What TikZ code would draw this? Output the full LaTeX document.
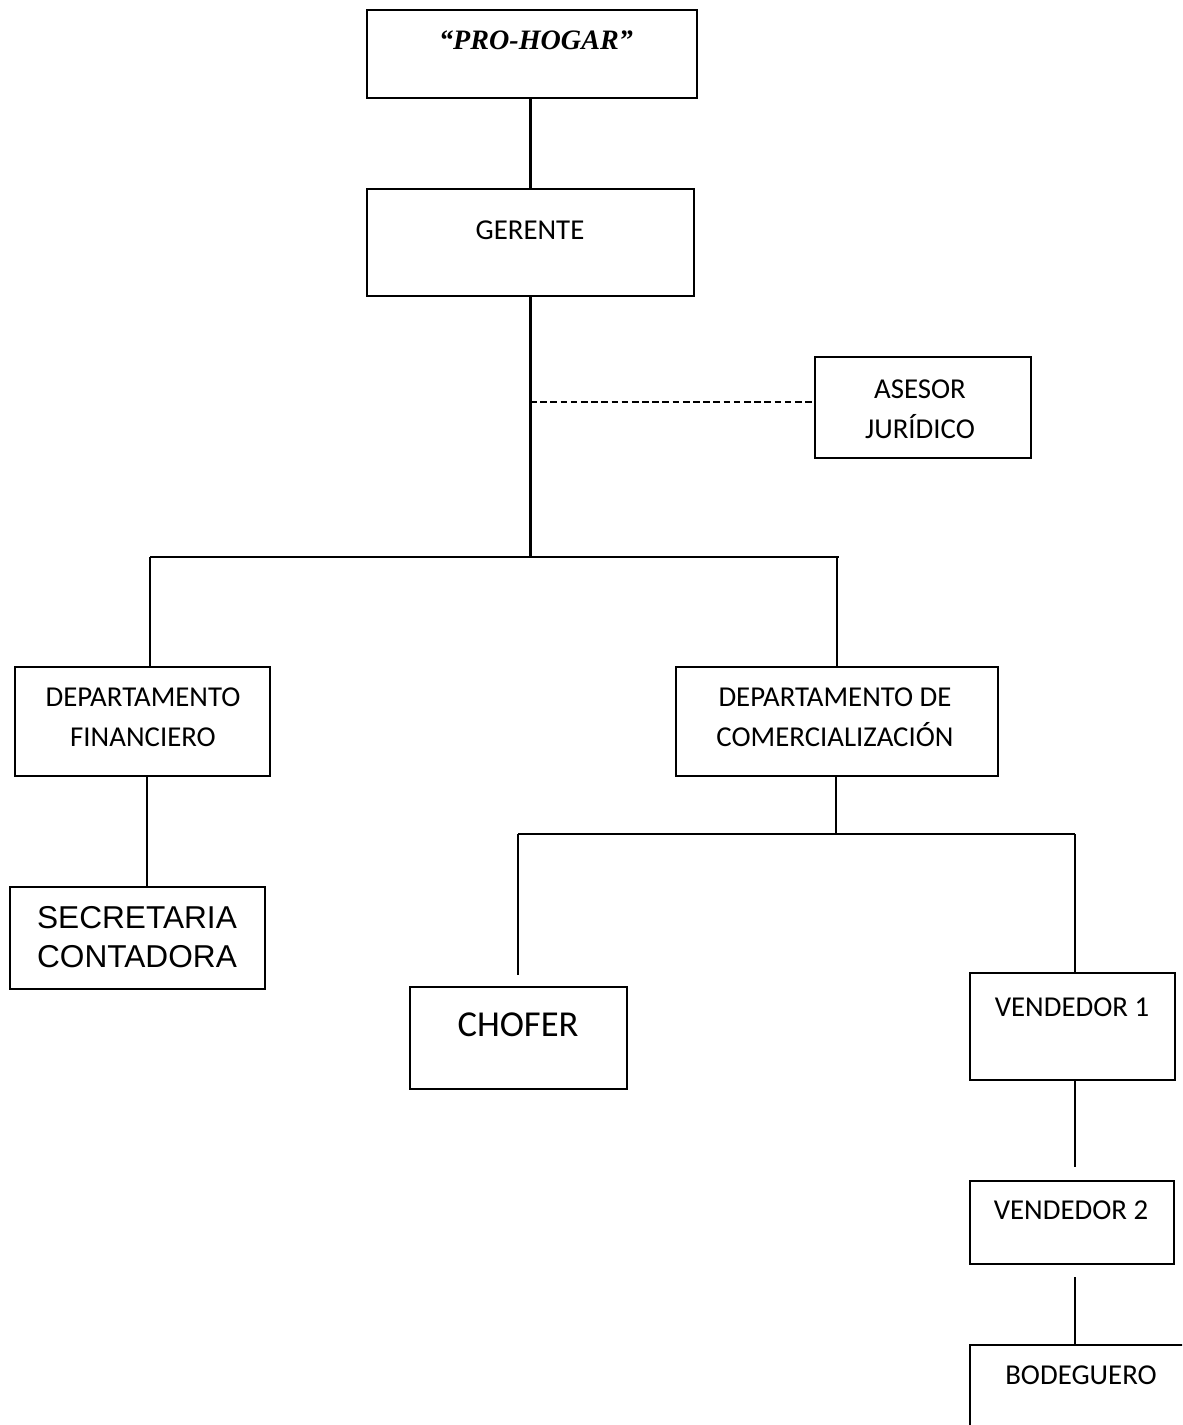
\documentclass[tikz,border=0pt]{standalone}
\usepackage{fontspec}
\setmainfont{Carlito}
\newfontfamily\arialfont{Liberation Sans}
\newfontfamily\titlefont{Liberation Serif}
\usetikzlibrary{fit}

\tikzset{
  orgbox/.style={draw, line width=1.3pt, inner sep=0pt},
  lbl/.style={inner sep=0pt, align=center, font=\fontsize{16.4}{22.8}\selectfont},
  biglbl/.style={inner sep=0pt, align=center, font=\arialfont\fontsize{18}{22}\selectfont},
  link/.style={line width=1.3pt},
  dotlink/.style={line width=0.7pt, dash pattern=on 3.8pt off 2pt},
}

\begin{document}
\begin{tikzpicture}[x=0.02cm, y=-0.02cm]
  \useasboundingbox (0,0) rectangle (1182,1425);
  \clip (0,0) rectangle (1182,1425);
  \fill[white] (0,0) rectangle (1182,1425);

  % boxes
  \node[orgbox, fit={(367,10) (697,98)}] (hogar) {};
  \node[orgbox, fit={(367,189) (694,296)}] (ger) {};
  \node[orgbox, fit={(815,357) (1031,458)}] (ase) {};
  \node[orgbox, fit={(15,667) (270,776)}] (fin) {};
  \node[orgbox, fit={(676,667) (998,776)}] (com) {};
  \node[orgbox, fit={(10,887) (265,989)}] (sec) {};
  \node[orgbox, fit={(410,987) (627,1089)}] (cho) {};
  \node[orgbox, fit={(970,973) (1175,1080)}] (ven1) {};
  \node[orgbox, fit={(970,1181) (1174,1264)}] (ven2) {};
  \node[orgbox, fit={(970,1345) (1220,1470)}] (bod) {};

  % labels
  \node[inner sep=0pt, font=\titlefont\bfseries\itshape\fontsize{16}{20}\selectfont] (hogarT) at (536,40) {“PRO-HOGAR”};
  \node[lbl] (gerT) at (530,230) {GERENTE};
  \node[lbl] (aseT) at (920,409) {ASESOR\\JURÍDICO};
  \node[lbl] (finT) at (143,717) {DEPARTAMENTO\\FINANCIERO};
  \node[lbl] (comT) at (835,717) {DEPARTAMENTO DE\\COMERCIALIZACIÓN};
  \node[biglbl] (secT) at (137,937) {SECRETARIA\\CONTADORA};
  \node[inner sep=0pt, font=\fontsize{20.8}{24}\selectfont] (choT) at (518,1025) {CHOFER};
  \node[lbl] (ven1T) at (1072,1007) {VENDEDOR 1};
  \node[lbl] (ven2T) at (1071,1210) {VENDEDOR 2};
  \node[lbl] (bodT) at (1081,1375) {BODEGUERO};

  % junction points
  \coordinate (trunk) at (530,557);
  \coordinate (brL) at (150,557);
  \coordinate (brR) at (839,557);
  \coordinate (comX) at (837,557);
  \coordinate (dash) at (530,402);
  \coordinate (finX) at (147,0);
  \coordinate (comJ) at (836,834);
  \coordinate (subL) at (518,834);
  \coordinate (subR) at (1075,834);
  \coordinate (choEnd) at (518,975);
  \coordinate (v1End) at (1075,1167);
  \coordinate (v2Start) at (1075,1277);

  % connectors
  \draw[link] (hogar.south -| ger.north) -- (ger.north);
  \draw[link] (ger.south) -- (ger.south |- trunk);
  \draw[dotlink] (dash) -- (dash -| ase.west);
  \draw[link] (brL) -- (brR);
  \draw[link] (brL) -- (brL |- fin.north);
  \draw[link] (comX) -- (comX |- com.north);
  \draw[link] (fin.south -| finX) -- (sec.north -| finX);
  \draw[link] (com.south -| comJ) -- (comJ);
  \draw[link] (subL) -- (subR);
  \draw[link] (subL) -- (choEnd);
  \draw[link] (subR) -- (subR |- ven1.north);
  \draw[link] (ven1.south -| v1End) -- (v1End);
  \draw[link] (v2Start) -- (v2Start |- bod.north);
\end{tikzpicture}
\end{document}
